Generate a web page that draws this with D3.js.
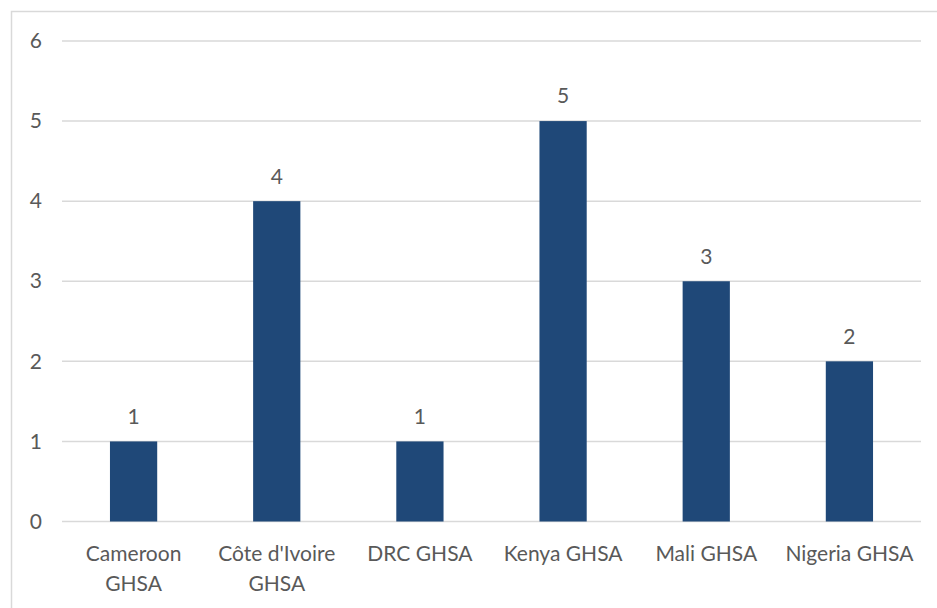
<!DOCTYPE html>
<html><head><meta charset="utf-8">
<script src="https://cdn.jsdelivr.net/npm/d3@7"></script>
<style>html,body{margin:0;padding:0;background:#fff;overflow:hidden}</style>
</head><body>
<svg id="c" width="937" height="608"></svg>
<script>
const categories = ["Cameroon GHSA", "Côte d'Ivoire GHSA", "DRC GHSA", "Kenya GHSA", "Mali GHSA", "Nigeria GHSA"];
const values = [1, 4, 1, 5, 3, 2];
const yTicks = [0, 1, 2, 3, 4, 5, 6];

const svg = d3.select("#c");
const font = "Lato, 'Noto Sans', sans-serif";
const fs = 21;
const textColor = "#595959";
const margin = {left: 62, right: 16, top: 41, bottom: 86.5};
const W = 937, H = 608;

svg.append("rect").attr("x", 11.5).attr("y", 11.5).attr("width", 940).attr("height", 620)
  .attr("fill", "#fff").attr("stroke", "#d9d9d9").attr("stroke-width", 1.5);

const x = d3.scaleBand().domain(categories).range([margin.left, W - margin.right]).paddingInner(0.67).paddingOuter(0.335);
const y = d3.scaleLinear().domain([0, 6]).range([H - margin.bottom, margin.top]);

// gridlines
svg.append("g").selectAll("line").data(yTicks).join("line")
  .attr("x1", margin.left).attr("x2", W - margin.right)
  .attr("y1", d => y(d)).attr("y2", d => y(d))
  .attr("stroke", "#d9d9d9").attr("stroke-width", 1.5);

// y axis labels
const yAxis = d3.axisLeft(y).tickValues(yTicks).tickSize(0).tickPadding(0).tickFormat(d3.format("d"));
const ya = svg.append("g").attr("transform", `translate(42,0)`).call(yAxis);
ya.select(".domain").remove();
ya.selectAll("text").attr("font-family", font).attr("font-size", fs).attr("fill", textColor);

// bars
svg.append("g").selectAll("rect").data(values).join("rect")
  .attr("x", (d, i) => x(categories[i])).attr("width", x.bandwidth())
  .attr("y", d => y(d)).attr("height", d => y(0) - y(d))
  .attr("fill", "#1f4878");

// data labels
svg.append("g").selectAll("text").data(values).join("text")
  .attr("x", (d, i) => x(categories[i]) + x.bandwidth() / 2)
  .attr("y", d => y(d) - 25).attr("dy", "0.35em")
  .attr("text-anchor", "middle").attr("font-family", font).attr("font-size", fs).attr("fill", textColor)
  .text(d => d);

// x axis labels with wrapping
const xAxis = d3.axisBottom(x).tickSize(0).tickPadding(0);
const xa = svg.append("g").attr("transform", `translate(0,${y(0)})`).call(xAxis);
xa.select(".domain").remove();
xa.selectAll("text").attr("font-family", font).attr("font-size", fs).attr("fill", textColor)
  .attr("y", 0).attr("dy", null)
  .each(function(d) {
    const t = d3.select(this);
    const words = d.split(" ");
    const maxW = 140;
    t.text(null);
    let lines = [], cur = [];
    const probe = t.append("tspan");
    words.forEach(w => {
      const trial = cur.concat([w]).join(" ");
      probe.text(trial);
      if (probe.node().getComputedTextLength() > maxW && cur.length) { lines.push(cur.join(" ")); cur = [w]; }
      else cur.push(w);
    });
    lines.push(cur.join(" "));
    probe.remove();
    lines.forEach((ln, i) => t.append("tspan").attr("x", 0).attr("y", 39 + i * 30).text(ln));
  });
</script>
</body></html>
